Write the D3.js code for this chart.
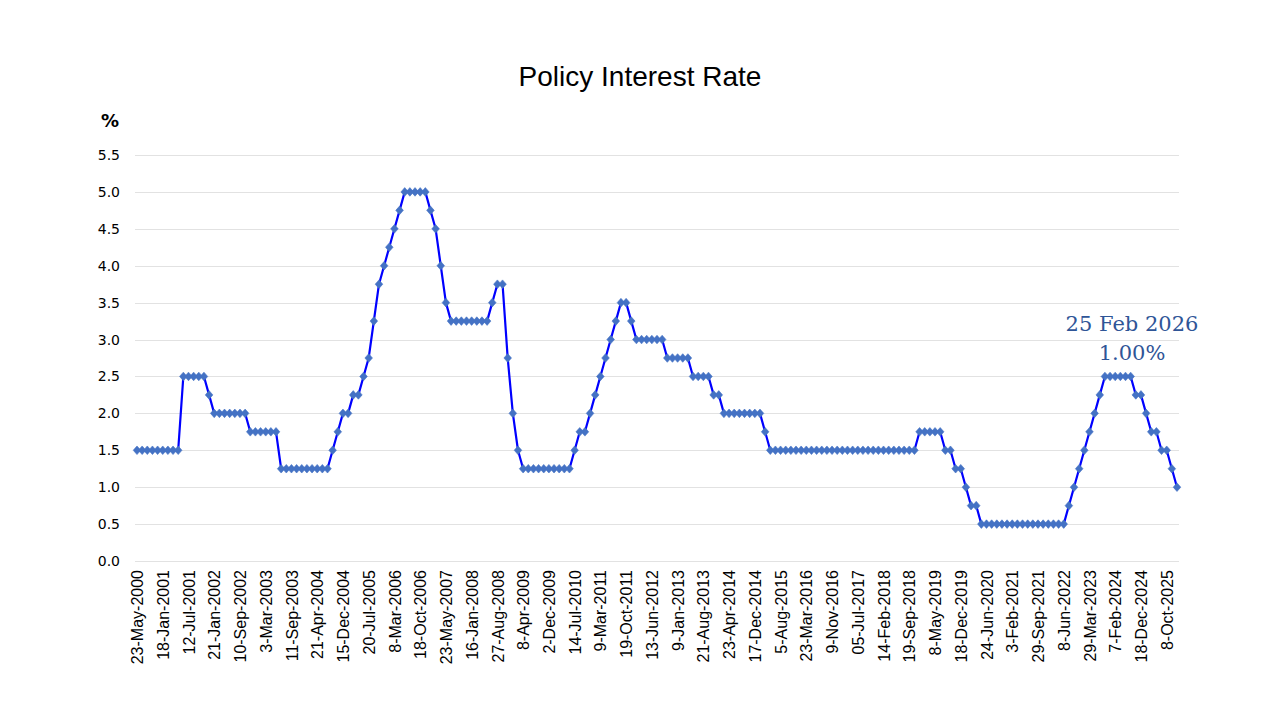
<!DOCTYPE html>
<html>
<head>
<meta charset="utf-8">
<script src="https://cdn.jsdelivr.net/npm/d3@7"></script>
<style>
  html, body { margin: 0; padding: 0; background: #ffffff; }
  svg { display: block; }
</style>
</head>
<body>
<svg id="chart" width="1280" height="720"></svg>
<script>
// Policy rate (%) at each meeting, in order
const values = [
  1.5,1.5,1.5,1.5,1.5,1.5,1.5,1.5,1.5,2.5,
  2.5,2.5,2.5,2.5,2.25,2,2,2,2,2,
  2,2,1.75,1.75,1.75,1.75,1.75,1.75,1.25,1.25,
  1.25,1.25,1.25,1.25,1.25,1.25,1.25,1.25,1.5,1.75,
  2,2,2.25,2.25,2.5,2.75,3.25,3.75,4,4.25,
  4.5,4.75,5,5,5,5,5,4.75,4.5,4,
  3.5,3.25,3.25,3.25,3.25,3.25,3.25,3.25,3.25,3.5,
  3.75,3.75,2.75,2,1.5,1.25,1.25,1.25,1.25,1.25,
  1.25,1.25,1.25,1.25,1.25,1.5,1.75,1.75,2,2.25,
  2.5,2.75,3,3.25,3.5,3.5,3.25,3,3,3,
  3,3,3,2.75,2.75,2.75,2.75,2.75,2.5,2.5,
  2.5,2.5,2.25,2.25,2,2,2,2,2,2,
  2,2,1.75,1.5,1.5,1.5,1.5,1.5,1.5,1.5,
  1.5,1.5,1.5,1.5,1.5,1.5,1.5,1.5,1.5,1.5,
  1.5,1.5,1.5,1.5,1.5,1.5,1.5,1.5,1.5,1.5,
  1.5,1.5,1.75,1.75,1.75,1.75,1.75,1.5,1.5,1.25,
  1.25,1,0.75,0.75,0.5,0.5,0.5,0.5,0.5,0.5,
  0.5,0.5,0.5,0.5,0.5,0.5,0.5,0.5,0.5,0.5,
  0.5,0.75,1,1.25,1.5,1.75,2,2.25,2.5,2.5,
  2.5,2.5,2.5,2.5,2.25,2.25,2,1.75,1.75,1.5,
  1.5,1.25,1
];

// Category labels shown on the axis (every 5th meeting)
const tickLabels = [
  "23-May-2000","18-Jan-2001","12-Jul-2001","21-Jan-2002","10-Sep-2002",
  "3-Mar-2003","11-Sep-2003","21-Apr-2004","15-Dec-2004","20-Jul-2005",
  "8-Mar-2006","18-Oct-2006","23-May-2007","16-Jan-2008","27-Aug-2008",
  "8-Apr-2009","2-Dec-2009","14-Jul-2010","9-Mar-2011","19-Oct-2011",
  "13-Jun-2012","9-Jan-2013","21-Aug-2013","23-Apr-2014","17-Dec-2014",
  "5-Aug-2015","23-Mar-2016","9-Nov-2016","05-Jul-2017","14-Feb-2018",
  "19-Sep-2018","8-May-2019","18-Dec-2019","24-Jun-2020","3-Feb-2021",
  "29-Sep-2021","8-Jun-2022","29-Mar-2023","7-Feb-2024","18-Dec-2024",
  "8-Oct-2025"
];
const labelStep = 5;

// Y axis ticks
const yTicks = [0,0.5,1,1.5,2,2.5,3,3.5,4,4.5,5,5.5];

const lastDateLabel = "25 Feb 2026";
const titleText = "Policy Interest Rate";

// ---- layout ----
const svg = d3.select("#chart");
const plotL = 137, plotR = 1177, plotT = 155, plotB = 561;

const x = d3.scaleLinear().domain([0, values.length - 1]).range([plotL, plotR]);
const y = d3.scaleLinear().domain([0, 5.5]).range([plotB, plotT]);

// Title
svg.append("text")
  .attr("x", 640).attr("y", 86)
  .attr("text-anchor", "middle")
  .attr("font-family", "Liberation Sans, Arial, sans-serif")
  .attr("font-size", 28)
  .attr("fill", "#000")
  .text(titleText);

// % unit
svg.append("text")
  .attr("x", 110).attr("y", 127)
  .attr("text-anchor", "middle")
  .attr("font-family", "DejaVu Sans, sans-serif")
  .attr("font-weight", "bold")
  .attr("font-size", 18)
  .attr("fill", "#000")
  .text("%");

// Gridlines
svg.append("g")
  .selectAll("line")
  .data(yTicks)
  .join("line")
  .attr("x1", plotL - 2).attr("x2", plotR + 2)
  .attr("y1", d => Math.round(y(d)) + 0.5)
  .attr("y2", d => Math.round(y(d)) + 0.5)
  .attr("stroke", "#e2e2e2")
  .attr("stroke-width", 1);

// Y axis
const yAxis = d3.axisLeft(y).tickValues(yTicks).tickFormat(d3.format(".1f")).tickSize(0).tickPadding(0);
const gy = svg.append("g").attr("transform", `translate(${plotL - 17},0)`).call(yAxis);
gy.select(".domain").remove();
gy.selectAll("text")
  .attr("font-family", "DejaVu Sans, sans-serif")
  .attr("font-size", 14)
  .attr("fill", "#000");

// X axis
const xAxis = d3.axisBottom(x)
  .tickValues(tickLabels.map((_, i) => i * labelStep))
  .tickFormat((d) => tickLabels[d / labelStep])
  .tickSize(0).tickPadding(0);
const gx = svg.append("g").attr("transform", `translate(0,${plotB})`).call(xAxis);
gx.select(".domain").remove();
gx.selectAll("text")
  .attr("font-family", "Liberation Sans, Arial, sans-serif")
  .attr("font-size", 16)
  .attr("fill", "#000")
  .attr("text-anchor", "end")
  .attr("transform", "rotate(-90)")
  .attr("x", -9)
  .attr("y", 0)
  .attr("dy", "0.35em");

// Line
const line = d3.line().x((d, i) => x(i)).y(d => y(d));
svg.append("path")
  .datum(values)
  .attr("fill", "none")
  .attr("stroke", "#0000ff")
  .attr("stroke-width", 2.2)
  .attr("stroke-linejoin", "round")
  .attr("d", line);

// Diamond markers
svg.append("g")
  .selectAll("path")
  .data(values)
  .join("path")
  .attr("transform", (d, i) => `translate(${x(i)},${y(d)})`)
  .attr("d", "M0,-4.3L3.8,0L0,4.3L-3.8,0Z")
  .attr("fill", "#4472c4")
  .attr("stroke", "#4472c4")
  .attr("stroke-width", 0.6);

// Annotation for latest value
const lastVal = values[values.length - 1];
const ann = svg.append("g")
  .attr("font-family", "DejaVu Serif, serif")
  .attr("font-size", 21)
  .attr("fill", "#2f5597")
  .attr("text-anchor", "middle");
ann.append("text").attr("x", 1132).attr("y", 331).text(lastDateLabel);
ann.append("text").attr("x", 1132).attr("y", 360).text(d3.format(".2f")(lastVal) + "%");
</script>
</body>
</html>
